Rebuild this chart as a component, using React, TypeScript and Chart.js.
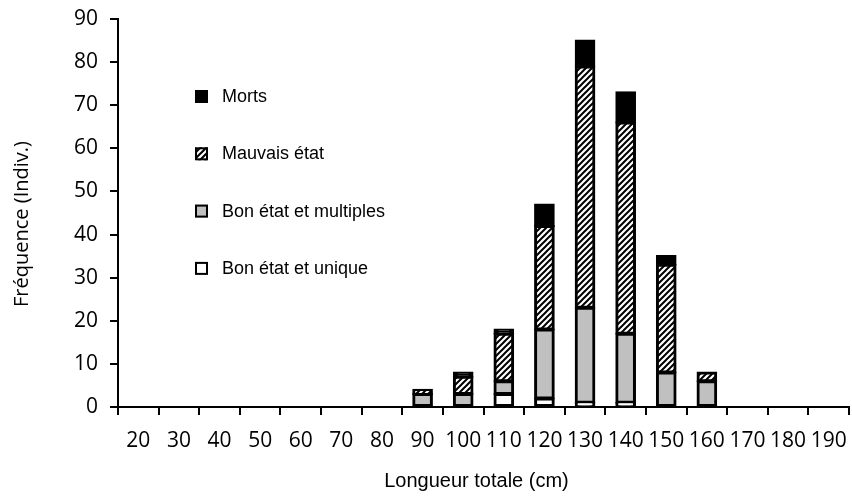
import React, { useEffect, useRef } from "react";
import { Chart, registerables } from "chart.js";

Chart.register(...registerables);

// ---- Data ----
const categories = ["20", "30", "40", "50", "60", "70", "80", "90", "100", "110", "120", "130", "140", "150", "160", "170", "180", "190"];
const seriesLabels = ["Bon état et unique", "Bon état et multiples", "Mauvais état", "Morts"];
const bonUnique = [null, null, null, null, null, null, null, null, null, 3, 2, 1, 1, null, null, null, null, null];
const bonMultiples = [null, null, null, null, null, null, null, 3, 3, 3, 16, 22, 16, 8, 6, null, null, null];
const mauvais = [null, null, null, null, null, null, null, 1, 4, 11, 24, 56, 49, 25, 2, null, null, null];
const morts = [null, null, null, null, null, null, null, null, 1, 1, 5, 6, 7, 2, null, null, null, null];
const yTicks = [0, 10, 20, 30, 40, 50, 60, 70, 80, 90];
const xTitle = "Longueur totale (cm)";
const yTitle = "Fréquence (Indiv.)";

function makeHatch(): CanvasPattern | string {
  const size = 6;
  const c = document.createElement("canvas");
  c.width = size;
  c.height = size;
  const g = c.getContext("2d");
  if (!g) return "#888";
  g.fillStyle = "#ffffff";
  g.fillRect(0, 0, size, size);
  g.strokeStyle = "#000000";
  g.lineWidth = 2;
  g.beginPath();
  g.moveTo(-1, size + 1);
  g.lineTo(size + 1, -1);
  g.moveTo(-size / 2 - 1, size / 2 + 1);
  g.lineTo(size / 2 + 1, -size / 2 - 1);
  g.moveTo(size / 2 - 1, size * 1.5 + 1);
  g.lineTo(size * 1.5 + 1, size / 2 - 1);
  g.stroke();
  const p = g.createPattern(c, "repeat");
  return p || "#888";
}

const legendPlugin = {
  id: "customLegend",
  afterDraw(chart: any) {
    const ctx = chart.ctx as CanvasRenderingContext2D;
    const ds = chart.data.datasets;
    const area = chart.chartArea;
    const x0 = area.left + 77;
    let y = area.top + 77;
    ctx.save();
    for (let i = ds.length - 1; i >= 0; i--) {
      const d = ds[i];
      ctx.fillStyle = d.backgroundColor;
      ctx.fillRect(x0, y - 6, 13, 13);
      ctx.lineWidth = 2;
      ctx.strokeStyle = "#000";
      ctx.strokeRect(x0 + 1, y - 5, 11, 11);
      ctx.fillStyle = "#000";
      ctx.font = '18px "Liberation Sans", Arial, sans-serif';
      ctx.textBaseline = "middle";
      ctx.textAlign = "left";
      ctx.fillText(d.label, x0 + 27, y + 1);
      y += 57.3;
    }
    // x axis title
    ctx.font = '20px "Liberation Sans", Arial, sans-serif';
    ctx.textAlign = "center";
    ctx.textBaseline = "middle";
    ctx.fillText(xTitle, (area.left + area.right) / 2 - 7, 481);
    // y axis title
    ctx.translate(22, (area.top + area.bottom) / 2 + 11);
    ctx.rotate(-Math.PI / 2);
    ctx.font = '20px "Open Sans", sans-serif';
    ctx.textAlign = "center";
    ctx.textBaseline = "middle";
    ctx.fillText(yTitle, 0, 0);
    ctx.restore();
  },
};

export default function App() {
  const ref = useRef<HTMLCanvasElement | null>(null);

  useEffect(() => {
    document.body.style.margin = "0";
    const canvas = ref.current;
    if (!canvas) return;
    const hatch = makeHatch();
    const common = {
      borderColor: "#000000",
      borderWidth: 3,
      borderSkipped: false as const,
      inflateAmount: 1,
      categoryPercentage: 1,
      barPercentage: 0.46,
    };
    const chart = new Chart(canvas, {
      type: "bar",
      data: {
        labels: categories,
        datasets: [
          { label: seriesLabels[0], data: bonUnique, backgroundColor: "#ffffff", ...common },
          { label: seriesLabels[1], data: bonMultiples, backgroundColor: "#c0c0c0", ...common },
          { label: seriesLabels[2], data: mauvais, backgroundColor: hatch as any, ...common },
          { label: seriesLabels[3], data: morts, backgroundColor: "#000000", ...common },
        ],
      },
      options: {
        animation: false,
        responsive: true,
        maintainAspectRatio: false,
        layout: { padding: { top: 19, right: 3, left: 0, bottom: 0 } },
        plugins: {
          legend: { display: false },
          tooltip: { enabled: false },
        },
        scales: {
          x: {
            stacked: true,
            afterFit: (scale: any) => {
              scale.height = 92;
              scale.paddingLeft = 0;
              scale.paddingRight = 0;
            },
            grid: {
              display: true,
              offset: true,
              drawOnChartArea: false,
              drawTicks: true,
              tickLength: 8,
              color: "#000",
              lineWidth: 2,
            },
            border: { display: true, color: "#000", width: 2 },
            ticks: {
              autoSkip: false,
              maxRotation: 0,
              minRotation: 0,
              padding: 13,
              color: "#000",
              font: { family: '"Open Sans", sans-serif', size: 21 },
            },
            title: { display: false },
          },
          y: {
            stacked: true,
            min: 0,
            max: 90,
            afterFit: (scale: any) => {
              scale.width = 118;
              scale.paddingTop = 0;
              scale.paddingBottom = 0;
            },
            afterBuildTicks: (scale: any) => {
              scale.ticks = yTicks.map((v) => ({ value: v }));
            },
            grid: {
              display: true,
              drawOnChartArea: false,
              drawTicks: true,
              tickLength: 8,
              color: "#000",
              lineWidth: 2,
            },
            border: { display: true, color: "#000", width: 2 },
            ticks: {
              padding: 12,
              color: "#000",
              font: { family: '"Open Sans", sans-serif', size: 21 },
            },
            title: { display: false },
          },
        },
      },
      plugins: [legendPlugin],
    });
    return () => chart.destroy();
  }, []);

  return (
    <div style={{ width: 852, height: 499, position: "relative" }}>
      <canvas ref={ref} />
    </div>
  );
}
